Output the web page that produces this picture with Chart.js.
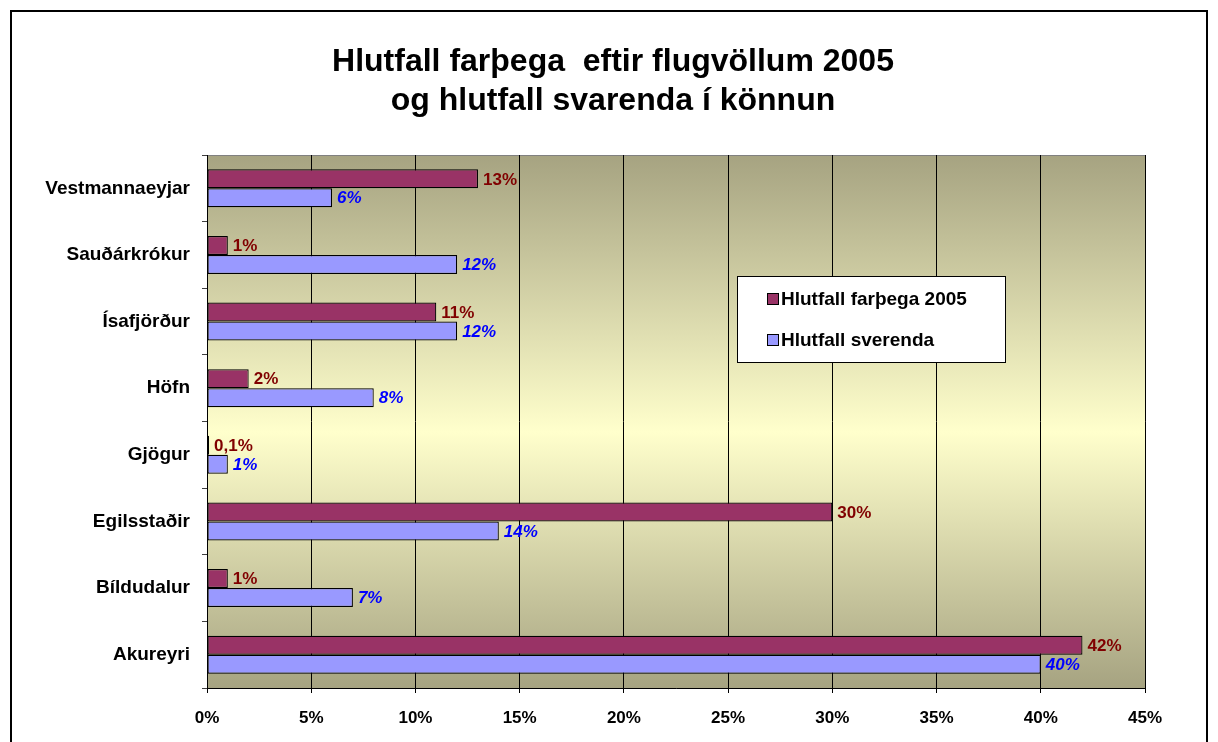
<!DOCTYPE html>
<html>
<head>
<meta charset="utf-8">
<script src="https://cdn.jsdelivr.net/npm/chart.js@4/dist/chart.umd.min.js"></script>
<style>
  html, body { margin: 0; padding: 0; background: #fff; }
  #wrap { width: 1218px; height: 742px; }
</style>
</head>
<body>
<div id="wrap"><canvas id="chart"></canvas></div>
<script>
// Hlutfall farþega eftir flugvöllum 2005 og hlutfall svarenda

const airports = ['Vestmannaeyjar', 'Sauðárkrókur', 'Ísafjörður', 'Höfn', 'Gjögur', 'Egilsstaðir', 'Bíldudalur', 'Akureyri'];
const passengers2005 = [13, 1, 11, 2, 0.1, 30, 1, 42];
const respondents = [6, 12, 12, 8, 1, 14, 7, 40];
const passengerLabels = ['13%', '1%', '11%', '2%', '0,1%', '30%', '1%', '42%'];
const respondentLabels = ['6%', '12%', '12%', '8%', '1%', '14%', '7%', '40%'];
const titleLines = ['Hlutfall farþega  eftir flugvöllum 2005', 'og hlutfall svarenda í könnun'];
const seriesNames = ['Hlutfall farþega 2005', 'Hlutfall sverenda'];

const FONT = 'Arial, "Liberation Sans", sans-serif';

// frame, title and plot background
const backdrop = {
    id: 'backdrop',
    beforeDraw(chart) {
        const ctx = chart.ctx;
        const a = chart.chartArea;
        ctx.save();
        ctx.strokeStyle = '#000';
        ctx.lineWidth = 2;
        ctx.beginPath();
        ctx.moveTo(11, 760);
        ctx.lineTo(11, 11);
        ctx.lineTo(1207, 11);
        ctx.lineTo(1207, 760);
        ctx.stroke();

        const g = ctx.createLinearGradient(0, a.top, 0, a.bottom);
        g.addColorStop(0, '#A6A381');
        g.addColorStop(0.52, '#FFFFCC');
        g.addColorStop(1, '#A6A381');
        ctx.fillStyle = g;
        ctx.fillRect(a.left, a.top, a.right - a.left, a.bottom - a.top);
        ctx.strokeStyle = '#808080';
        ctx.lineWidth = 1;
        ctx.strokeRect(a.left + 0.5, a.top + 0.5, a.right - a.left, a.bottom - a.top);

        ctx.fillStyle = '#000';
        ctx.font = 'bold 32px ' + FONT;
        ctx.textAlign = 'center';
        ctx.textBaseline = 'middle';
        ctx.fillText(titleLines[0], 613, 62);
        ctx.fillText(titleLines[1], 613, 101);
        ctx.restore();
    }
};

// value labels and legend box
const overlay = {
    id: 'overlay',
    afterDatasetsDraw(chart) {
        const ctx = chart.ctx;
        ctx.save();
        ctx.textBaseline = 'middle';
        ctx.textAlign = 'left';
        const styles = [
            { labels: passengerLabels, font: 'bold 17px ' + FONT, color: '#800000' },
            { labels: respondentLabels, font: 'italic bold 17px ' + FONT, color: '#0000FF' }
        ];
        styles.forEach((s, di) => {
            chart.getDatasetMeta(di).data.forEach((bar, i) => {
                ctx.font = s.font;
                ctx.fillStyle = s.color;
                ctx.fillText(s.labels[i], bar.x + 5, bar.y + 1);
            });
        });

        // legend
        ctx.fillStyle = '#fff';
        ctx.fillRect(737, 276, 268, 86);
        ctx.strokeStyle = '#000';
        ctx.lineWidth = 1;
        ctx.strokeRect(737.5, 276.5, 268, 86);
        const ys = [299, 340];
        chart.data.datasets.forEach((ds, i) => {
            ctx.fillStyle = ds.backgroundColor;
            ctx.fillRect(767, ys[i] - 6, 11, 11);
            ctx.strokeRect(767.5, ys[i] - 5.5, 11, 11);
            ctx.fillStyle = '#000';
            ctx.font = 'bold 19px ' + FONT;
            ctx.fillText(ds.label, 781, ys[i] + 1);
        });
        ctx.restore();
    }
};

new Chart(document.getElementById('chart'), {
    type: 'bar',
    data: {
        labels: airports,
        datasets: [
            {
                label: seriesNames[0],
                data: passengers2005,
                backgroundColor: '#993366',
                borderColor: '#000',
                borderWidth: 1.2,
                borderSkipped: false
            },
            {
                label: seriesNames[1],
                data: respondents,
                backgroundColor: '#9999FF',
                borderColor: '#000',
                borderWidth: 1.2,
                borderSkipped: false
            }
        ]
    },
    options: {
        indexAxis: 'y',
        responsive: true,
        maintainAspectRatio: false,
        animation: false,
        layout: { padding: { top: 155, right: 73, bottom: 0, left: 0 } },
        datasets: { bar: { categoryPercentage: 0.57, barPercentage: 1 } },
        plugins: {
            legend: { display: false },
            title: { display: false },
            tooltip: { enabled: false }
        },
        scales: {
            x: {
                min: 0,
                max: 45,
                ticks: {
                    stepSize: 5,
                    color: '#000',
                    padding: 15,
                    font: { family: FONT, size: 17, weight: 'bold' },
                    callback: v => v + '%'
                },
                grid: { color: '#000', lineWidth: 1, tickLength: 5 },
                border: { color: '#000', width: 1 },
                afterFit: s => { s.height = 54; }
            },
            y: {
                ticks: {
                    color: '#000',
                    padding: 12,
                    font: { family: FONT, size: 19, weight: 'bold' }
                },
                grid: { drawOnChartArea: false, color: '#404040', tickLength: 5, offset: true },
                border: { color: '#000', width: 1 },
                afterFit: s => { s.width = 207; }
            }
        }
    },
    plugins: [backdrop, overlay]
});
</script>
</body>
</html>
